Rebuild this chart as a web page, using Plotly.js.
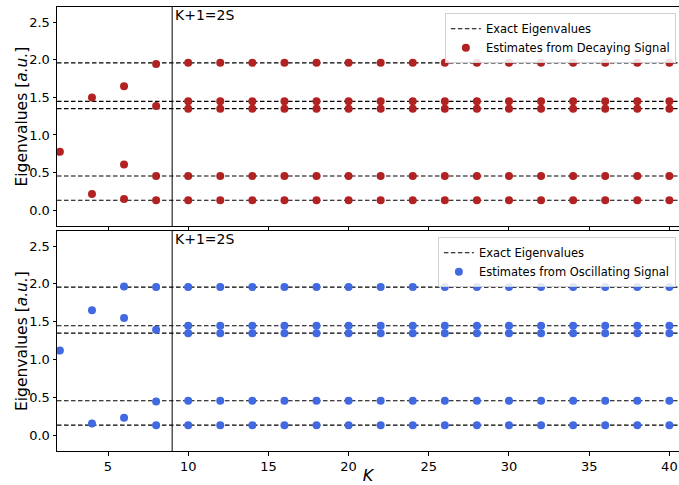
<!DOCTYPE html>
<html><head><meta charset="utf-8">
<script src="https://cdn.plot.ly/plotly-3.0.1.min.js"></script>
<style>html,body{margin:0;padding:0;background:#fff}#chart{width:679px;height:485px}</style>
</head><body><div id="chart"></div>
<script>
// ---- data ----
const K = [2,4,6,8,10,12,14,16,18,20,22,24,26,28,30,32,34,36,38,40];
const exactEigenvalues = [0.132, 0.454, 1.349, 1.446, 1.958];
// estimates per K (list of eigenvalue estimates at each K)
const decayingEstimates = [
  [0.775],
  [0.216, 1.499],
  [0.149, 0.608, 1.648],
  [0.132, 0.454, 1.384, 1.944]
];
const oscillatingEstimates = [
  [1.119],
  [0.154, 1.653],
  [0.229, 1.548, 1.966],
  [0.132, 0.444, 1.393, 1.958]
];
const thresholdK = 9;
const thresholdLabel = "K+1=2S";
const yTitle = 'Eigenvalues [<i>a.u.</i>]';
const xTitle = '<i>K</i>';
const xRange = [1.82, 40.6];
const yRange = [-0.21, 2.7];
const yTicks = [0.0, 0.5, 1.0, 1.5, 2.0, 2.5];
const xTicks = [5, 10, 15, 20, 25, 30, 35, 40];

// For K >= 10, estimates coincide with the exact eigenvalues
function fullEstimates(early){
  const xs=[], ys=[];
  K.forEach((k,i)=>{
    const vals = i < early.length ? early[i] : exactEigenvalues;
    vals.forEach(v=>{xs.push(k); ys.push(v);});
  });
  return {xs, ys};
}
function exactLines(){
  const xs=[], ys=[];
  exactEigenvalues.forEach(v=>{xs.push(xRange[0], xRange[1], null); ys.push(v, v, null);});
  return {xs, ys};
}

const dec = fullEstimates(decayingEstimates);
const osc = fullEstimates(oscillatingEstimates);
const ex = exactLines();
const font = {family:'"DejaVu Sans", sans-serif', color:'#000'};
const lineStyle = {color:'#000', width:1.1, dash:'4.5px,2.5px'};

const traces = [
  {x:ex.xs, y:ex.ys, xaxis:'x', yaxis:'y', mode:'lines', line:lineStyle, name:'Exact Eigenvalues', legend:'legend', hoverinfo:'skip'},
  {x:dec.xs, y:dec.ys, xaxis:'x', yaxis:'y', mode:'markers', marker:{color:'#b22222', size:8}, name:'Estimates from Decaying Signal', legend:'legend'},
  {x:ex.xs, y:ex.ys, xaxis:'x2', yaxis:'y2', mode:'lines', line:lineStyle, name:'Exact Eigenvalues', legend:'legend2', hoverinfo:'skip'},
  {x:osc.xs, y:osc.ys, xaxis:'x2', yaxis:'y2', mode:'markers', marker:{color:'#4169e1', size:8}, name:'Estimates from Oscillating Signal', legend:'legend2'}
];

const H = 485, mt = 7, mb = 34, ml = 57;
const plotH = H - mt - mb;
function pyToPaper(py){ return (H - mb - py) / plotH; }
const yDomTop = [pyToPaper(226), pyToPaper(7)];
const yDomBot = [pyToPaper(451), pyToPaper(231)];
const titleX = (22 - ml) / (679 - ml);

const axCommon = {
  showgrid:false, zeroline:false, showline:true, linecolor:'#000', linewidth:1, mirror:true,
  ticks:'outside', ticklen:3.5, tickwidth:1, tickcolor:'#000',
  tickfont:{family:font.family, size:13, color:'#000'}
};
const legendCommon = {x:0.995, xanchor:'right', yanchor:'top', bgcolor:'rgba(255,255,255,0.85)',
    bordercolor:'#d0d0d0', borderwidth:1, font:{family:font.family, size:11.5, color:'#000'}, tracegroupgap:0, itemwidth:30};
const annFont = {family:font.family, size:14, color:'#000'};
const layout = {
  width:679, height:485,
  margin:{l:ml, r:0, t:mt, b:mb},
  paper_bgcolor:'#fff', plot_bgcolor:'#fff',
  font:font, showlegend:true,
  xaxis:Object.assign({}, axCommon, {range:xRange, tickvals:xTicks, showticklabels:false, anchor:'y', domain:[0,1]}),
  yaxis:Object.assign({}, axCommon, {range:yRange, tickvals:yTicks, tickformat:'.1f', domain:yDomTop, anchor:'x'}),
  xaxis2:Object.assign({}, axCommon, {range:xRange, tickvals:xTicks, anchor:'y2', domain:[0,1],
    title:{text:xTitle, font:{family:font.family, size:16, color:'#000'}, standoff:3}}),
  yaxis2:Object.assign({}, axCommon, {range:yRange, tickvals:yTicks, tickformat:'.1f', domain:yDomBot, anchor:'x2'}),
  legend:Object.assign({}, legendCommon, {y:yDomTop[1]-0.014}),
  legend2:Object.assign({}, legendCommon, {y:yDomBot[1]-0.014}),
  shapes:[
    {type:'line', xref:'x', yref:'y domain', x0:thresholdK, x1:thresholdK, y0:0, y1:1, line:{color:'#000', width:1}},
    {type:'line', xref:'x2', yref:'y2 domain', x0:thresholdK, x1:thresholdK, y0:0, y1:1, line:{color:'#000', width:1}}
  ],
  annotations:[
    {xref:'x', yref:'y domain', x:thresholdK, y:1, xanchor:'left', yanchor:'top', text:thresholdLabel, showarrow:false, xshift:1, yshift:2, font:annFont},
    {xref:'x2', yref:'y2 domain', x:thresholdK, y:1, xanchor:'left', yanchor:'top', text:thresholdLabel, showarrow:false, xshift:1, yshift:2, font:annFont},
    {xref:'paper', yref:'paper', x:titleX, y:(yDomTop[0]+yDomTop[1])/2, xanchor:'center', yanchor:'middle', textangle:-90, text:yTitle, showarrow:false, font:{family:font.family, size:15.5, color:'#000'}},
    {xref:'paper', yref:'paper', x:titleX, y:(yDomBot[0]+yDomBot[1])/2, xanchor:'center', yanchor:'middle', textangle:-90, text:yTitle, showarrow:false, font:{family:font.family, size:15.5, color:'#000'}}
  ]
};
Plotly.newPlot('chart', traces, layout, {displayModeBar:false, staticPlot:true});
</script>
</body></html>
